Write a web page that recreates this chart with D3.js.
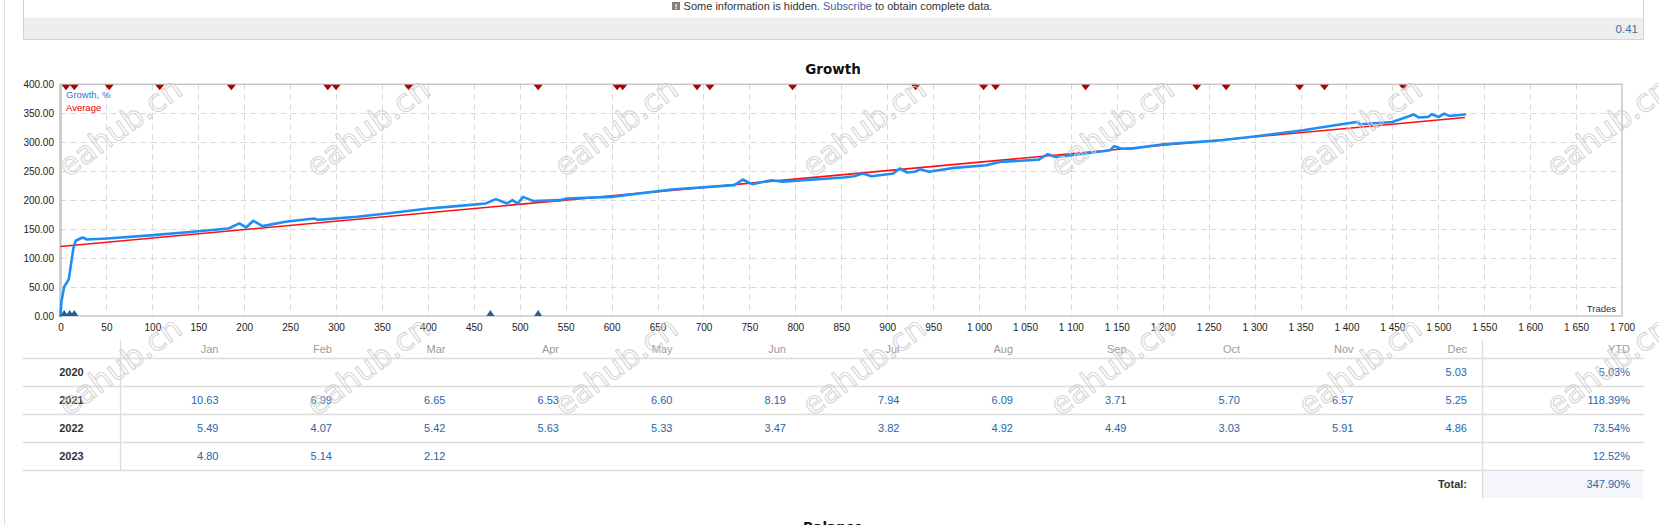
<!DOCTYPE html>
<html>
<head>
<meta charset="utf-8">
<script src="https://cdn.jsdelivr.net/npm/d3@7"></script>
<style>
body { margin: 0; background: #fff; overflow: hidden; }
text { font-family: "Liberation Sans", Arial, sans-serif; }
</style>
</head>
<body>
<div id="page"></div>
<script>
// growth curve (trade number -> growth %)
const tradeNo = [0, 1, 4, 9, 14, 16.5, 24, 29, 51, 101, 144, 183, 194.6, 202, 210, 220, 245, 276, 280, 323, 362, 400.6, 431.6, 462.8, 474, 486, 492, 497.8, 503.6, 515, 543.6, 551, 599.6, 665.5, 733.7, 742.7, 753, 774, 786, 852, 864, 873.6, 883, 906.7, 913.7, 922, 930, 935.9, 945.6, 972.8, 1007.8, 1022.5, 1065, 1074.8, 1082.8, 1100, 1143, 1147, 1154.6, 1166, 1201, 1240, 1263.5, 1302, 1353, 1364.6, 1411, 1415, 1450, 1473.4, 1479, 1489, 1492.7, 1500.6, 1506.4, 1512, 1529];
const growth = [0, 24.7, 50.5, 63.2, 116.7, 129.9, 135.6, 132, 133.9, 139.7, 145.4, 151, 159.8, 152.9, 164.4, 155.2, 162.6, 168.4, 166, 171.3, 178.2, 185.6, 189.7, 194.2, 201.7, 194.2, 200, 194, 205.7, 198.3, 200, 202.9, 205.7, 218.4, 225.9, 235.6, 227.6, 234.5, 232, 239, 241.4, 246, 241.4, 246, 254.6, 247.7, 248.9, 253.4, 248.9, 255.7, 260.3, 266, 270, 279.3, 274.7, 277.6, 286.2, 293.1, 289, 289, 296.6, 300.6, 303.4, 310.3, 320.7, 323.6, 335, 331, 335, 347.7, 342.6, 343.7, 348.3, 343.7, 349.4, 345.4, 347.9];
const avgTrades = [0, 1529];
const avgValues = [120, 342.6];
const topMarks = [6, 15, 53, 108, 186, 291, 300, 379, 520, 606, 612, 693, 707, 797, 931, 1005, 1018, 1116, 1237, 1269, 1349, 1376, 1462];
const bottomMarks = [4, 10, 15, 468, 520];

const xTicks = d3.range(0, 1701, 50);
const yTicks = d3.range(0, 401, 50);

const months = ["Jan", "Feb", "Mar", "Apr", "May", "Jun", "Jul", "Aug", "Sep", "Oct", "Nov", "Dec"];
const years = ["2020", "2021", "2022", "2023"];
const monthly = [
  [null, null, null, null, null, null, null, null, null, null, null, 5.03],
  [10.63, 6.99, 6.65, 6.53, 6.60, 8.19, 7.94, 6.09, 3.71, 5.70, 6.57, 5.25],
  [5.49, 4.07, 5.42, 5.63, 5.33, 3.47, 3.82, 4.92, 4.49, 3.03, 5.91, 4.86],
  [4.80, 5.14, 2.12, null, null, null, null, null, null, null, null, null]
];
const ytd = [5.03, 118.39, 73.54, 12.52];
const total = 347.90;

const W = 1659, H = 525;
const svg = d3.select("#page").append("svg")
    .attr("width", W)
    .attr("height", H);

// page frame + info box
svg.append("line").attr("x1", 4.5).attr("x2", 4.5).attr("y1", 0).attr("y2", H)
    .style("stroke", "#dcdcdc");
svg.append("rect").attr("x", 23).attr("y", 17.5).attr("width", 1620).attr("height", 21.5)
    .style("fill", "#eeeeee");
svg.append("path").attr("d", "M23.5,0V39.5H1643.5V0")
    .style("fill", "none").style("stroke", "#d4d4d4");

const info = svg.append("text").attr("x", 838).attr("y", 9.5)
    .attr("text-anchor", "middle")
    .style("font-size", "11px").style("fill", "#333");
info.append("tspan").text("Some information is hidden. ");
info.append("tspan").style("fill", "#3b5ea6").text("Subscribe");
info.append("tspan").text(" to obtain complete data.");
svg.append("rect").attr("x", 672).attr("y", 2).attr("width", 8).attr("height", 8)
    .style("fill", "#808080");
svg.append("text").attr("x", 676).attr("y", 9).attr("text-anchor", "middle")
    .style("font-size", "8px").style("font-weight", "bold").style("fill", "#fff").text("!");

svg.append("text").attr("x", 1638).attr("y", 33).attr("text-anchor", "end")
    .style("font-size", "11.5px").style("fill", "#4a6aa0").text("0.41");

svg.append("text").attr("x", 833).attr("y", 73.5).attr("text-anchor", "middle")
    .style("font-family", "DejaVu Sans").style("font-weight", "bold")
    .style("font-size", "13.5px").style("fill", "#111").text("Growth");

// chart
const x = d3.scaleLinear().domain([0, 1700]).range([60.5, 1622]);
const y = d3.scaleLinear().domain([0, 400]).range([316, 84.3]);

const grid = svg.append("g").style("stroke", "#d9d9d9").style("stroke-dasharray", "6,4");
grid.selectAll(".vg").data(xTicks.slice(1, -1)).enter().append("line")
    .attr("x1", (d) => Math.round(x(d)) + 0.5).attr("x2", (d) => Math.round(x(d)) + 0.5)
    .attr("y1", y(400)).attr("y2", y(0));
grid.selectAll(".hg").data(yTicks.slice(1, -1)).enter().append("line")
    .attr("y1", (d) => Math.round(y(d)) + 0.5).attr("y2", (d) => Math.round(y(d)) + 0.5)
    .attr("x1", x(0)).attr("x2", x(1700));

svg.append("rect").attr("x", x(0)).attr("y", y(400))
    .attr("width", x(1700) - x(0)).attr("height", y(0) - y(400))
    .style("fill", "none").style("stroke", "#c4c4c4").style("stroke-width", 1.4);
svg.append("line").attr("x1", x(0)).attr("x2", x(0)).attr("y1", y(400)).attr("y2", y(0))
    .style("stroke", "#c8c8c8").style("stroke-width", 2.5);

const fmt = d3.formatLocale({decimal: ".", thousands: " ", grouping: [3], currency: ["", ""]}).format(",");

const xAxis = svg.append("g").attr("transform", `translate(0,${y(0)})`)
    .call(d3.axisBottom(x).tickValues(xTicks).tickSize(0).tickPadding(7.5).tickFormat(fmt));
xAxis.select(".domain").remove();
xAxis.selectAll("text").style("font-family", "Liberation Sans").style("font-size", "10px").style("fill", "#222");

const yAxis = svg.append("g").attr("transform", `translate(${x(0)},0)`)
    .call(d3.axisLeft(y).tickValues(yTicks).tickSize(0).tickPadding(6.5).tickFormat(d3.format(".2f")));
yAxis.select(".domain").remove();
yAxis.selectAll("text").style("font-family", "Liberation Sans").style("font-size", "10px").style("fill", "#222");

svg.append("text").attr("x", 1616).attr("y", 311.5).attr("text-anchor", "end")
    .style("font-size", "9.5px").style("fill", "#333").text("Trades");

svg.append("text").attr("x", 66).attr("y", 97.5)
    .style("font-size", "9.5px").style("fill", "#2a78d8").text("Growth, %");
svg.append("text").attr("x", 66).attr("y", 111)
    .style("font-size", "9.5px").style("fill", "#e00000").text("Average");

const growthData = tradeNo.map((t, i) => ({t: t, v: growth[i]}));
const line = d3.line().x((d) => x(d.t)).y((d) => y(d.v));

svg.append("path").datum(avgTrades.map((t, i) => ({t: t, v: avgValues[i]})))
    .attr("d", line)
    .style("fill", "none").style("stroke", "#ff1010").style("stroke-width", 1.6);

svg.append("path").datum(growthData)
    .attr("d", line)
    .style("fill", "none").style("stroke", "#1e8ef5").style("stroke-width", 2.6)
    .style("stroke-linejoin", "round").style("stroke-linecap", "round");

svg.selectAll(".sell").data(topMarks).enter().append("path")
    .attr("d", (d) => `M${x(d) - 4.5},${y(400) + 0.5}L${x(d) + 4.5},${y(400) + 0.5}L${x(d)},${y(400) + 6}Z`)
    .style("fill", "#b00000");
svg.selectAll(".buy").data(bottomMarks).enter().append("path")
    .attr("d", (d) => `M${x(d) - 4},${y(0)}L${x(d) + 4},${y(0)}L${x(d)},${y(0) - 6}Z`)
    .style("fill", "#1f5f9a");

// monthly table
const col = d3.scaleBand().domain(months).range([120, 1482]);
const row = d3.scaleBand().domain(years).range([358.3, 470]);
const tbl = svg.append("g");

tbl.selectAll(".hl").data([358.3].concat(years.map((yr) => row(yr) + row.bandwidth())))
    .enter().append("line")
    .attr("x1", 23).attr("x2", 1644)
    .attr("y1", (d) => Math.round(d) + 0.5).attr("y2", (d) => Math.round(d) + 0.5)
    .style("stroke", "#dcdcdc").style("stroke-width", 1.3);
tbl.append("line").attr("x1", 120.5).attr("x2", 120.5).attr("y1", 340).attr("y2", 470)
    .style("stroke", "#dcdcdc").style("stroke-width", 1.3);
tbl.append("rect").attr("x", 1482).attr("y", 471).attr("width", 161).attr("height", 27)
    .style("fill", "#f4f6fb");
tbl.append("line").attr("x1", 1482.5).attr("x2", 1482.5).attr("y1", 340).attr("y2", 498)
    .style("stroke", "#dcdcdc").style("stroke-width", 1.3);

tbl.selectAll(".mh").data(months).enter().append("text")
    .attr("x", (m) => col(m) + col.bandwidth() - 15).attr("y", 353)
    .attr("text-anchor", "end")
    .style("font-size", "11px").style("fill", "#9c9c9c").text((m) => m);
tbl.append("text").attr("x", 1630).attr("y", 353).attr("text-anchor", "end")
    .style("font-size", "11px").style("fill", "#9c9c9c").text("YTD");

years.forEach((yr, i) => {
    const cy = row(yr) + row.bandwidth() / 2 + 3.8;
    tbl.append("text").attr("x", 71.5).attr("y", cy).attr("text-anchor", "middle")
        .style("font-size", "11px").style("font-weight", "bold").style("fill", "#333").text(yr);
    tbl.selectAll(".v" + yr).data(monthly[i].map((v, j) => ({m: months[j], v: v})).filter((d) => d.v !== null))
        .enter().append("text")
        .attr("x", (d) => col(d.m) + col.bandwidth() - 15).attr("y", cy)
        .attr("text-anchor", "end")
        .style("font-size", "11px").style("fill", "#2766ab").text((d) => d.v.toFixed(2));
    tbl.append("text").attr("x", 1630).attr("y", cy).attr("text-anchor", "end")
        .style("font-size", "11px").style("fill", "#2766ab").text(ytd[i].toFixed(2) + "%");
});
tbl.append("text").attr("x", 1467).attr("y", 488).attr("text-anchor", "end")
    .style("font-size", "11px").style("font-weight", "bold").style("fill", "#333").text("Total:");
tbl.append("text").attr("x", 1630).attr("y", 488).attr("text-anchor", "end")
    .style("font-size", "11px").style("fill", "#2766ab").text(total.toFixed(2) + "%");

svg.append("text").attr("x", 833).attr("y", 532).attr("text-anchor", "middle")
    .style("font-family", "DejaVu Sans").style("font-weight", "bold")
    .style("font-size", "13.5px").style("fill", "#111").text("Balance");

// watermark overlay
const wm = [];
[127, 366].forEach((cy) => d3.range(0, 7).forEach((k) => wm.push([120 + 248 * k, cy])));
svg.append("g").selectAll("text").data(wm).enter().append("text")
    .attr("transform", (d) => `translate(${d[0]},${d[1]}) rotate(-36)`)
    .attr("text-anchor", "middle").attr("dy", "0.35em")
    .style("font-family", "DejaVu Sans").style("font-size", "31px")
    .style("fill", "none").style("stroke", "#cfcfcf").style("stroke-width", 0.9)
    .text("eahub.cn");
</script>
</body>
</html>
